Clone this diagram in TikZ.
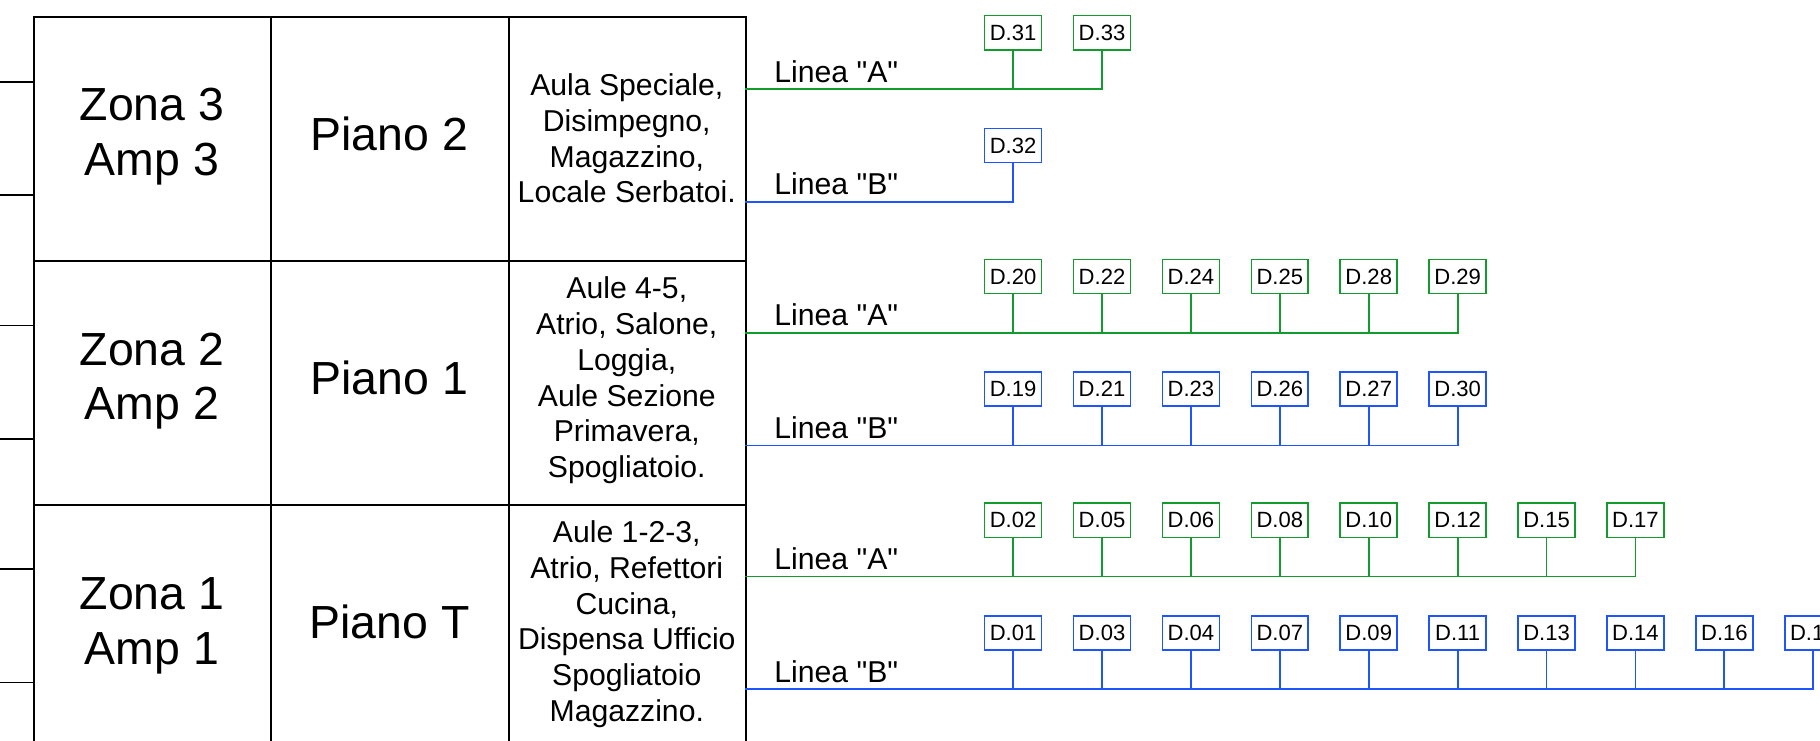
\documentclass[tikz,border=0pt]{standalone}
\usepackage{fontspec}
\setmainfont{Liberation Sans}
\newfontfamily\qfont{Liberation Sans}
\definecolor{lgreen}{RGB}{20,155,45}
\definecolor{lblue}{RGB}{30,85,255}
\newcommand\dline[5]{%
  \coordinate (#1s) at (642,#3);
  \foreach \lab [count=\k from 0] in {#4} {
    \node[dbox, draw=#2] (#1-\k) at (872.8+76.6*\k, #3-48.5) {D.\lab};
    \draw[wire, #2] (#1-\k.south) -- (#1-\k.south |- #1s);
  }
  \draw[wire, #2] (#1s) -| (#1-#5.south);
}
\begin{document}
\begin{tikzpicture}[x=1pt,y=-1pt,
  cell/.style={draw=black, line width=1.6pt, minimum height=210pt, inner sep=0pt, anchor=north west},
  big/.style={font=\fontsize{40}{47}\selectfont, align=center, inner sep=0pt, anchor=north},
  mid/.style={font=\fontsize{26}{30.8}\selectfont, align=center, inner sep=0pt, anchor=north},
  lab/.style={font=\qfont\fontsize{26}{30}\selectfont, inner sep=0pt, anchor=base west},
  dbox/.style={line width=1.4pt, minimum width=49pt, minimum height=29.5pt, inner sep=0pt, fill=white, font=\fontsize{19}{19}\selectfont},
  wire/.style={line width=1.6pt},
  tbl/.style={draw=black, line width=1.6pt}]
\useasboundingbox (0,0) rectangle (1568,638.4);
\clip (0,0) rectangle (1568,638.4);
% table cells
\foreach \r/\y in {1/14,2/224,3/434} {
  \node[cell, minimum width=204.6pt] (c1-\r) at (28.4,\y) {};
  \node[cell, minimum width=205pt] (c2-\r) at (233,\y) {};
  \node[cell, minimum width=204pt] (c3-\r) at (438,\y) {};
}
% left stubs
\foreach \i/\y in {1/70.4,2/168,3/280.4,4/378,5/490.4,6/588} {
  \coordinate (s\i) at (0,\y);
  \draw[tbl] (s\i) -- (s\i -| c1-1.west);
}
% texts
\node[big] (z3) at (131,75.7) {Zona 3\\Amp 3};
\node[big] (z2) at (131,286.7) {Zona 2\\Amp 2};
\node[big] (z1) at (131,497.7) {Zona 1\\Amp 1};
\node[big] (p2) at (335.5,100.7) {Piano 2};
\node[big] (p1) at (335.5,310.7) {Piano 1};
\node[big] (pt) at (335.5,520.7) {Piano T};
\node[mid] (t3) at (540,63.4) {Aula Speciale,\\Disimpegno,\\Magazzino,\\Locale Serbatoi.};
\node[mid] (t2) at (540,238.4) {Aule 4-5,\\Atrio, Salone,\\Loggia,\\Aule Sezione\\Primavera,\\Spogliatoio.};
\node[mid] (t1) at (540,448.4) {Aule 1-2-3,\\Atrio, Refettori\\Cucina,\\Dispensa Ufficio\\Spogliatoio\\Magazzino.};
% line labels
\node[lab] (la3) at (667,70.7) {Linea "A"};
\node[lab] (lb3) at (667,167.8) {Linea "B"};
\node[lab] (la2) at (667,280.7) {Linea "A"};
\node[lab] (lb2) at (667,377.8) {Linea "B"};
\node[lab] (la1) at (667,490.7) {Linea "A"};
\node[lab] (lb1) at (667,587.8) {Linea "B"};
% lines and boxes
\dline{a3}{lgreen}{76.7}{31,33}{1}
\dline{b3}{lblue}{173.8}{32}{0}
\dline{a2}{lgreen}{286.7}{20,22,24,25,28,29}{5}
\dline{b2}{lblue}{383.8}{19,21,23,26,27,30}{5}
\dline{a1}{lgreen}{496.7}{02,05,06,08,10,12,15,17}{7}
\dline{b1}{lblue}{593.8}{01,03,04,07,09,11,13,14,16,18}{9}
\end{tikzpicture}
\end{document}
